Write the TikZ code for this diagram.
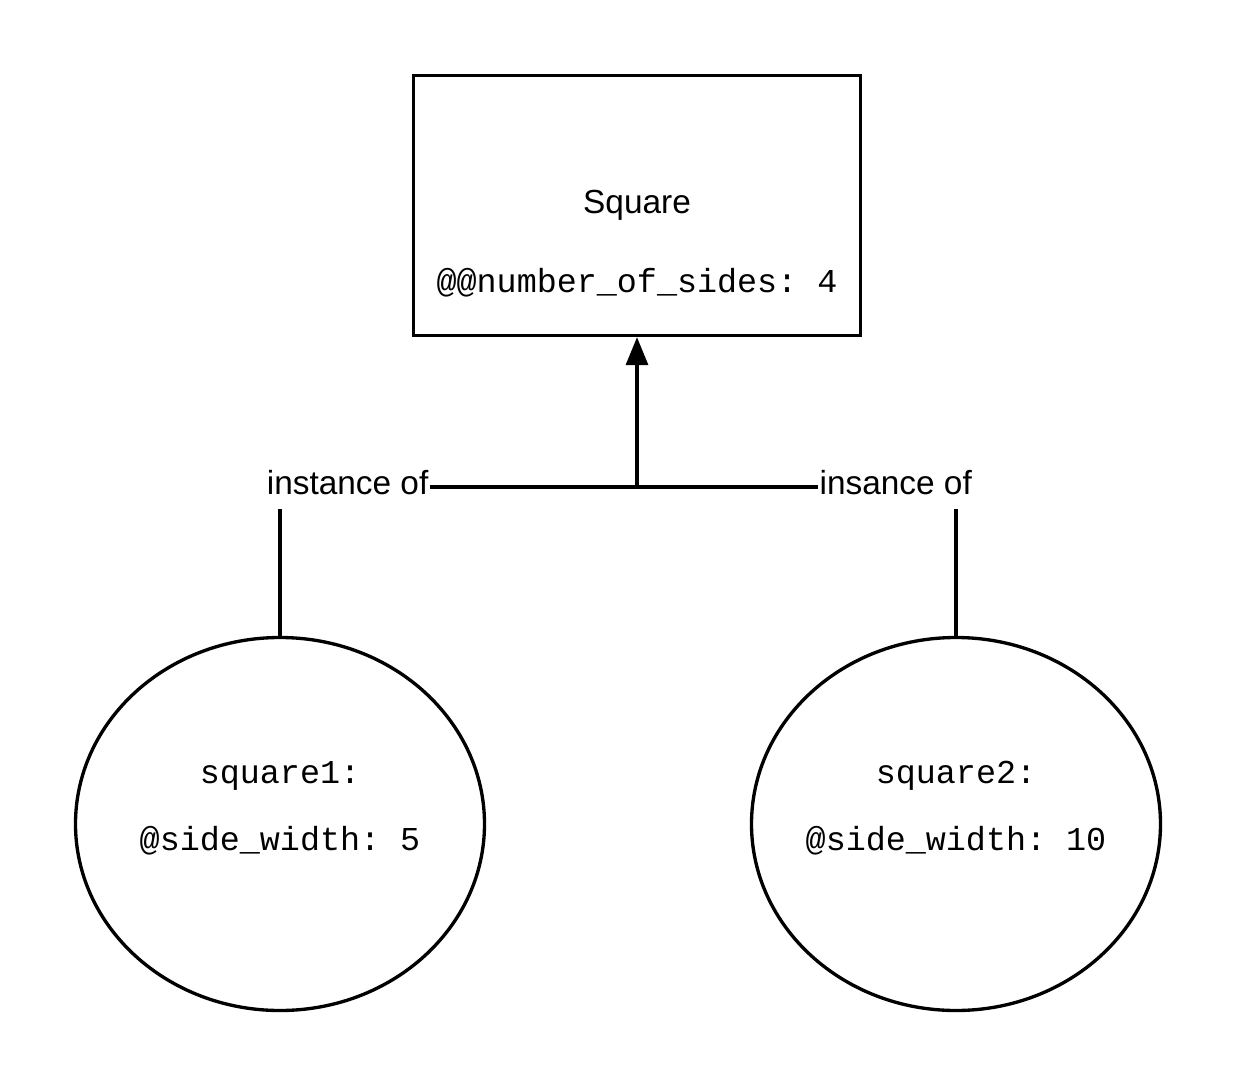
\documentclass[tikz,border=0pt]{standalone}
\usepackage{fontspec}
\setmainfont{Liberation Sans}
\setmonofont{Liberation Mono}
\usetikzlibrary{positioning,shapes.geometric,arrows.meta}

\begin{document}
\begin{tikzpicture}[line width=1.9pt, every node/.style={font=\fontsize{19}{23}\selectfont}]
    \useasboundingbox (0,0) rectangle (24.76,-21.76);
    \node[draw, minimum width=8.94cm, minimum height=5.2cm] (cls) at (12.74,-4.11) {};
    \node[anchor=base] (clsname) at (12.74,-4.26) {Square};
    \node[anchor=base] (clsattr) at (12.74,-5.84) {\texttt{@@number\_of\_sides: 4}};
    \foreach \i/\x/\w in {1/5.6/5, 2/19.12/10}
    {
        \node[draw, ellipse, minimum width=8.18cm, minimum height=7.46cm] (sq\i) at (\x,-16.48) {};
        \node[anchor=base] (sqname\i) at (\x,-15.66) {\texttt{square\i:}};
        \node[anchor=base] (sqattr\i) at (\x,-17.0) {\texttt{@side\_width: \w}};
    }
    \node[anchor=base east, inner xsep=0pt, inner ysep=7.6pt] (inst1) at (8.6,-9.88) {instance of};
    \node[anchor=base west, inner xsep=0pt, inner ysep=7.6pt] (inst2) at (16.36,-9.88) {insance of};
    \coordinate (join) at (12.74,-9.74);
    \draw (inst1.east |- join) -- (inst2.west |- join);
    \draw[-{Triangle[width=0.44cm,length=0.56cm]}] (join) -- (cls);
    \draw (sq1.north) -- (sq1.north |- inst1.south);
    \draw (sq2.north) -- (sq2.north |- inst2.south);
\end{tikzpicture}
\end{document}
